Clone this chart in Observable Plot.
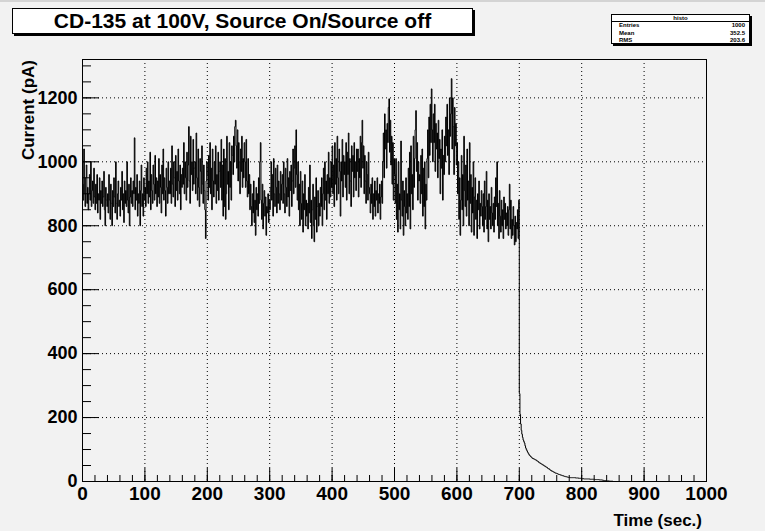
<!DOCTYPE html>
<html>
<head>
<meta charset="utf-8">
<script src="https://cdn.jsdelivr.net/npm/d3@7"></script>
<script src="https://cdn.jsdelivr.net/npm/@observablehq/plot@0.6"></script>
<style>
html, body { margin: 0; padding: 0; background: #f2f2f2; }
#wrap { position: relative; width: 765px; height: 531px; overflow: hidden; font-family: "Liberation Sans", Arial, Helvetica, sans-serif; font-weight: bold; }
#topline { position: absolute; left: 0; top: 0; width: 765px; height: 2px; background: #d4d4d4; }
.pave { position: absolute; box-sizing: border-box; background: #ffffff; border: 1px solid #000; box-shadow: 2px 2px 0 #000; }
#title { left: 12px; top: 8px; width: 461px; height: 26px; font-size: 21px; line-height: 24px; text-align: center; color: #000; }
#stats { left: 611px; top: 14px; width: 139px; height: 30px; font-size: 6px; color: #000; }
#stats .hdr { height: 6px; line-height: 6px; text-align: center; border-bottom: 1px solid #000; }
#stats .row { display: flex; justify-content: space-between; padding: 0 4px 0 7px; height: 7.7px; line-height: 7.7px; }
#plot { position: absolute; left: 0; top: 0; }
</style>
</head>
<body>
<div id="wrap">
  <div id="plot"></div>
  <div id="topline"></div>
  <div class="pave" id="title"></div>
  <div class="pave" id="stats"></div>
</div>
<script>
// ---- data (1 s bins) ----
const titleText = "CD-135 at 100V, Source On/Source off";
const xTitle = "Time (sec.)";
const yTitle = "Current (pA)";
const statsName = "histo";
const statLabels = ["Entries", "Mean", "RMS"];
const statValues = ["1000", "352.5", "203.6"];

const binWidth = 1;
const xMax = 1000;
const yMax = 1320;
const xMajor = [0, 100, 200, 300, 400, 500, 600, 700, 800, 900, 1000];
const yMajor = [0, 200, 400, 600, 800, 1000, 1200];
const xMinorStep = 20;
const yMinorStep = 50;

// source on: 0 - 699 s
const onValues = [
930, 880, 1040, 900, 860, 950, 990, 870, 920, 850, 900, 960, 880, 1000, 860, 910, 940, 870, 980, 890,
850, 930, 870, 960, 840, 900, 880, 950, 820, 910, 870, 940, 860, 890, 970, 850, 800, 920, 880, 860,
900, 840, 960, 880, 820, 930, 870, 800, 910, 860, 950, 890, 840, 1000, 870, 820, 900, 940, 860, 880,
830, 920, 880, 970, 850, 900, 810, 940, 870, 910, 860, 1000, 880, 840, 930, 800, 890, 950, 870, 910,
860, 940, 900, 1075, 850, 920, 880, 960, 830, 900, 870, 940, 800, 910, 990, 860, 900, 830, 950, 880,
920, 860, 980, 900, 1000, 870, 940, 890, 1030, 850, 960, 910, 870, 990, 930, 880, 1020, 900, 950, 860,
940, 890, 1010, 870, 960, 920, 840, 990, 900, 1040, 880, 950, 910, 830, 980, 920, 870, 1000, 900, 940,
900, 980, 870, 1050, 930, 890, 1000, 950, 860, 1020, 910, 970, 880, 1040, 940, 900, 990, 850, 960, 920,
980, 930, 1060, 900, 1000, 950, 880, 1030, 920, 990, 1110, 940, 870, 1080, 960, 1000, 910, 1070, 930, 980,
1000, 900, 1090, 950, 880, 1040, 920, 860, 1010, 970, 900, 1050, 930, 870, 990, 910, 850, 760, 940, 1000,
960, 880, 1020, 920, 1060, 900, 980, 850, 1040, 940, 890, 1000, 930, 1050, 870, 960, 910, 1030, 880, 970,
1000, 920, 1070, 880, 990, 830, 1040, 860, 1010, 820, 900, 1080, 930, 970, 850, 1060, 920, 1000, 880, 1050,
1020, 960, 1080, 1000, 1110, 1130, 1050, 980, 1100, 940, 1060, 1000, 900, 1040, 970, 1080, 920, 1010, 950, 1060,
1000, 920, 1070, 940, 890, 1010, 900, 960, 850, 930, 860, 800, 900, 840, 940, 810, 880, 770, 920, 850,
900, 830, 950, 870, 1000, 1060, 880, 820, 930, 790, 870, 910, 830, 890, 770, 860, 840, 900, 810, 880,
850, 920, 1000, 880, 960, 830, 1010, 900, 860, 980, 920, 840, 990, 870, 940, 900, 850, 970, 880, 930,
960, 870, 1000, 900, 840, 980, 920, 860, 1010, 890, 950, 830, 970, 910, 990, 860, 940, 1040, 900, 980,
1050, 920, 1100, 960, 880, 1000, 850, 930, 800, 970, 870, 820, 940, 780, 900, 850, 960, 800, 880, 830,
870, 790, 920, 840, 990, 810, 880, 760, 850, 930, 800, 750, 890, 820, 950, 780, 860, 910, 800, 870,
830, 920, 860, 950, 800, 900, 980, 850, 1000, 880, 940, 820, 960, 900, 1030, 870, 950, 890, 1000, 920,
1050, 900, 990, 860, 1060, 930, 1010, 880, 1080, 950, 900, 1040, 970, 830, 1000, 940, 1070, 890, 1020, 960,
1000, 920, 1060, 880, 1030, 960, 1090, 900, 1010, 940, 860, 1050, 970, 1020, 890, 1060, 950, 1000, 910, 1040,
970, 1040, 890, 1010, 950, 1080, 920, 1060, 1130, 980, 1050, 900, 1020, 940, 870, 1000, 960, 880, 1030, 920,
900, 840, 930, 870, 950, 820, 900, 860, 940, 830, 910, 880, 950, 840, 900, 870, 930, 820, 890, 940,
870, 1000, 1090, 950, 1150, 1040, 1100, 980, 1120, 1060, 1170, 1197, 1030, 1130, 990, 1080, 930, 1060, 880, 1010,
960, 870, 1010, 820, 930, 780, 1000, 850, 900, 790, 1065, 880, 830, 940, 770, 910, 860, 800, 950, 840,
900, 820, 980, 860, 1030, 790, 1050, 900, 960, 850, 1080, 920, 1010, 1100, 1160, 970, 1060, 880, 1000, 940,
960, 870, 1020, 900, 1040, 830, 980, 860, 1000, 790, 930, 880, 1010, 1100, 950, 1140, 1020, 1180, 1060, 1228,
1100, 1000, 1150, 1060, 1180, 970, 1120, 1040, 1090, 950, 1130, 1010, 1070, 900, 1040, 980, 1100, 880, 1020, 960,
1080, 1000, 1140, 1050, 1180, 1020, 1100, 960, 1200, 1080, 1150, 1260, 1040, 1200, 1110, 960, 1170, 1050, 1120, 990,
1060, 900, 1000, 820, 950, 770, 880, 1020, 850, 960, 800, 1080, 910, 860, 990, 830, 1040, 880, 940, 800,
1060, 870, 960, 780, 920, 840, 1000, 770, 890, 950, 820, 880, 760, 900, 850, 940, 790, 870, 830, 910,
860, 800, 900, 780, 940, 820, 860, 970, 790, 880, 750, 900, 820, 860, 790, 920, 840, 800, 870, 780,
890, 820, 950, 860, 1000, 800, 870, 760, 910, 830, 780, 880, 800, 850, 760, 890, 820, 870, 790, 840,
800, 860, 770, 850, 930, 790, 880, 760, 820, 770, 860, 800, 740, 830, 750, 810, 790, 850, 760, 880
];

// source off: 700 - 859 s (bins beyond are empty)
const offValues = [
275, 210, 180, 160, 148, 138, 130, 125, 120, 112, 105, 100, 96, 92, 88, 85, 82, 80, 78, 76,
74, 72, 72, 70, 70, 68, 68, 66, 64, 64, 62, 60, 58, 58, 56, 55, 54, 52, 52, 50,
48, 48, 46, 45, 44, 42, 40, 40, 38, 36, 35, 34, 32, 32, 30, 30, 28, 27, 26, 26,
25, 24, 23, 22, 22, 21, 20, 20, 19, 18, 18, 17, 16, 16, 15, 15, 14, 14, 13, 13,
13, 12, 12, 12, 12, 12, 12, 12, 12, 12, 11, 11, 11, 11, 11, 10, 10, 10, 10, 10,
9, 9, 9, 8, 8, 8, 8, 8, 8, 8, 8, 8, 8, 7, 7, 7, 7, 7, 7, 7,
7, 6, 6, 6, 6, 6, 6, 6, 5, 5, 5, 5, 5, 4, 4, 3, 3, 3, 2, 2,
2, 2, 2, 2, 1, 1, 1, 1, 1, 1, 0, 0, 0, 0, 0, 0, 0, 0, 0, 0
];

// ---- build ----
const values = onValues.concat(offValues);
const rows = values.map((v, i) => ({t: i * binWidth, v}));
rows.push({t: xMax, v: 0});

const xMinor = d3.range(0, xMax + 0.001, xMinorStep);
const yMinor = d3.range(0, yMax, yMinorStep);

const W = 765, H = 531, mL = 82, mR = 59, mT = 59, mB = 50;
const innerW = W - mL - mR, innerH = H - mT - mB;
const font = "Liberation Sans, Arial, Helvetica, sans-serif";
const fmt = d3.format("d");

const chart = Plot.plot({
  width: W, height: H,
  marginLeft: mL, marginRight: mR, marginTop: mT, marginBottom: mB,
  style: {background: "transparent", fontFamily: font, fontSize: "18px", fontWeight: "bold", color: "#000"},
  x: {domain: [0, xMax], label: null},
  y: {domain: [0, yMax], label: null},
  marks: [
    Plot.gridX(xMajor.slice(1, -1), {stroke: "#000", strokeOpacity: 1, strokeDasharray: "1,3"}),
    Plot.gridY(yMajor.slice(1), {stroke: "#000", strokeOpacity: 1, strokeDasharray: "1,3"}),
    Plot.line(rows, {x: "t", y: "v", curve: "step-after", stroke: "#000", strokeWidth: 1}),
    Plot.tickX(xMinor, {x: d => d, stroke: "#000", insetTop: innerH - 6}),
    Plot.tickX(xMajor, {x: d => d, stroke: "#000", insetTop: innerH - 13}),
    Plot.tickY(yMinor, {y: d => d, stroke: "#000", insetRight: innerW - 9}),
    Plot.tickY(yMajor, {y: d => d, stroke: "#000", insetRight: innerW - 17}),
    Plot.axisX(xMajor, {tickSize: 0, tickPadding: 5, tickFormat: fmt, fontSize: 19, fontWeight: "bold", label: null}),
    Plot.axisY(yMajor, {tickSize: 0, tickPadding: 5, tickFormat: fmt, fontSize: 18, fontWeight: "bold", label: null}),
    Plot.frame({stroke: "#000", strokeWidth: 1})
  ]
});

const svg = d3.select(chart);
svg.append("text")
  .attr("transform", `translate(34,${mT + 1}) rotate(-90)`)
  .attr("text-anchor", "end")
  .attr("font-size", 17).attr("font-weight", "bold").attr("font-family", font)
  .text(yTitle);
svg.append("text")
  .attr("x", W - mR - 4).attr("y", 526)
  .attr("text-anchor", "end")
  .attr("font-size", 17).attr("font-weight", "bold").attr("font-family", font)
  .text(xTitle);

document.getElementById("plot").appendChild(chart);
document.getElementById("title").textContent = titleText;

const stats = d3.select("#stats");
stats.append("div").attr("class", "hdr").text(statsName);
statLabels.forEach((l, i) => {
  const r = stats.append("div").attr("class", "row");
  r.append("span").text(l);
  r.append("span").text(statValues[i]);
});
</script>
</body>
</html>
